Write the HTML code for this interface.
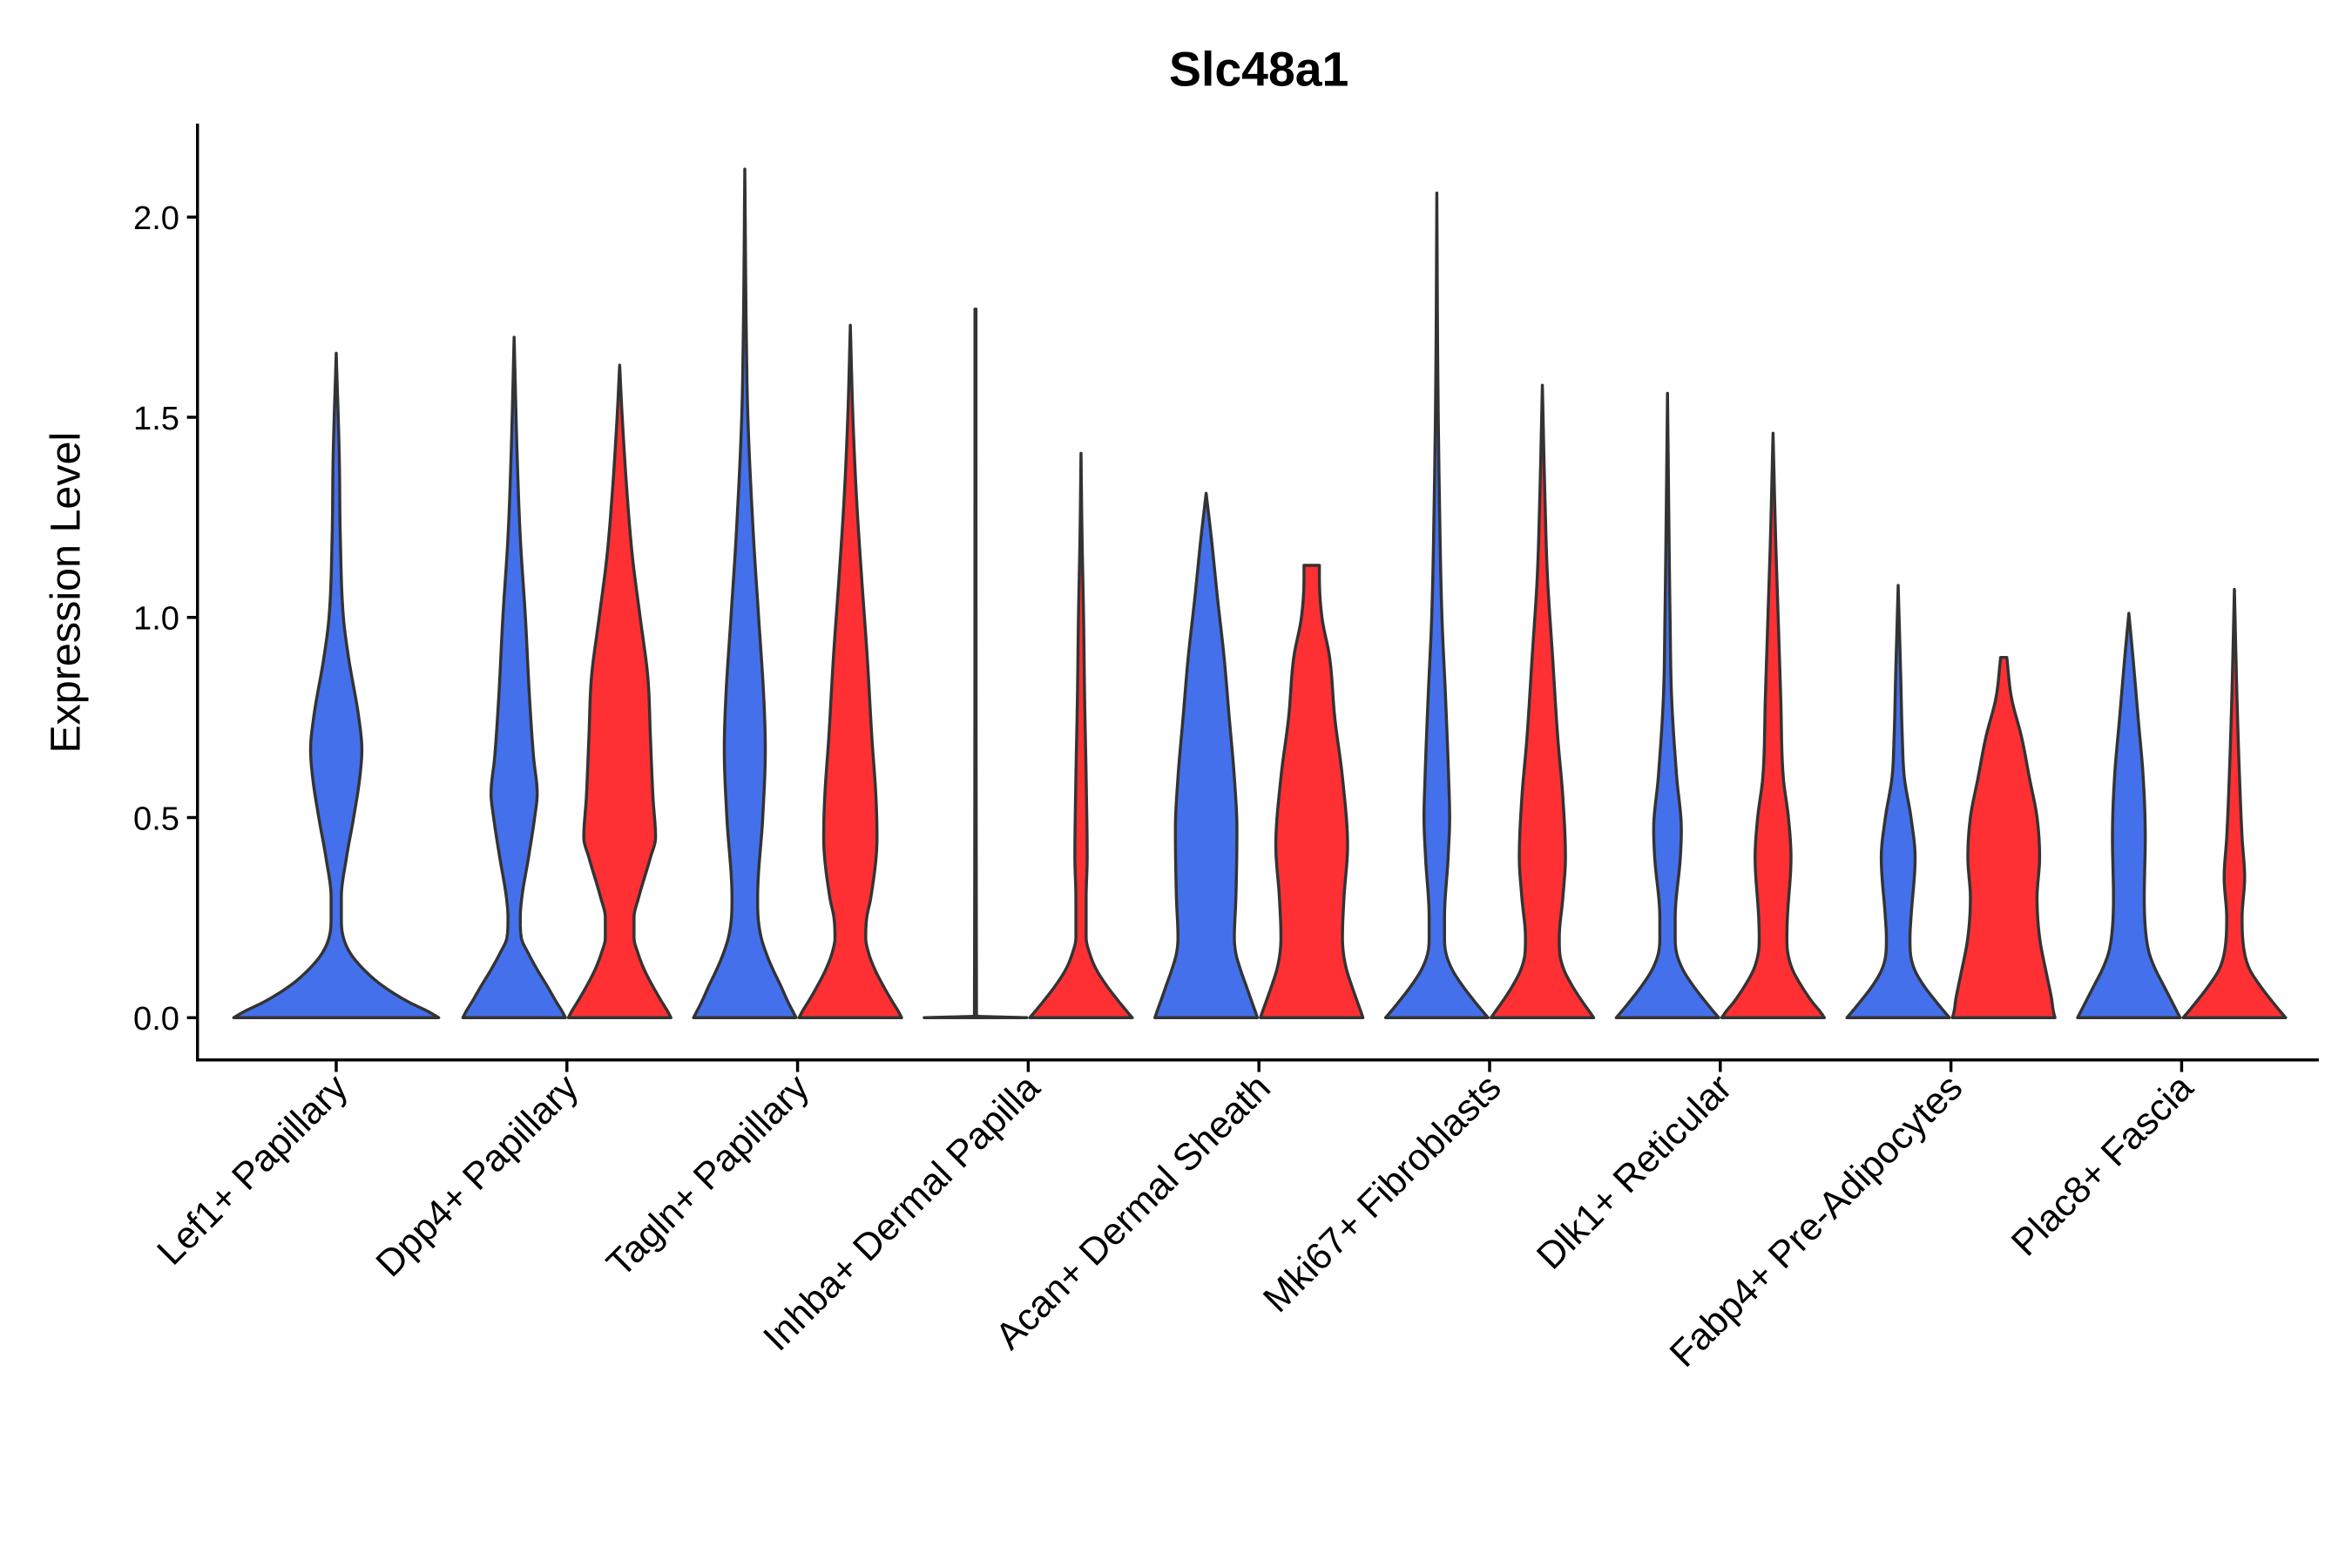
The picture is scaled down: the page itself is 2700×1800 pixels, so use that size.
<!DOCTYPE html>
<html><head><meta charset="utf-8"><style>
html,body{margin:0;padding:0;background:#fff}
svg{display:block}
text{font-family:"Liberation Sans","DejaVu Sans",sans-serif;fill:#000}
</style></head><body>
<svg id="chart" width="2700" height="1800" viewBox="0 0 1560 1040" xmlns="http://www.w3.org/2000/svg">
<rect width="1560" height="1040" fill="#fff"/>
<text x="835" y="57" text-anchor="middle" font-size="32" font-weight="bold">Slc48a1</text>
<text transform="translate(53,393) rotate(-90)" text-anchor="middle" font-size="28">Expression Level</text>
<g id="plot"></g>
</svg>
<script>
const categories = ["Lef1+ Papillary","Dpp4+ Papillary","Tagln+ Papillary","Inhba+ Dermal Papilla","Acan+ Dermal Sheath","Mki67+ Fibroblasts","Dlk1+ Reticular","Fabp4+ Pre-Adipocytes","Plac8+ Fascia"];
const yTicks = [0, 0.5, 1.0, 1.5, 2.0];
const yTickLabels = ["0.0","0.5","1.0","1.5","2.0"];
const violinCategory = [0,1,1,2,2,3,3,4,4,5,5,6,6,7,7,8,8];
const violinGroup =    [0,1,2,1,2,1,2,1,2,1,2,1,2,1,2,1,2];
const violinProfiles = [
 [[0,1],[0.015,0.9],[0.04,0.7],[0.08,0.45],[0.12,0.27],[0.16,0.14],[0.2,0.07],[0.25,0.05],[0.3,0.05],[0.4,0.1],[0.5,0.17],[0.6,0.23],[0.67,0.25],[0.75,0.22],[0.9,0.12],[1.0,0.07],[1.2,0.04],[1.4,0.03],[1.66,0]],
 [[0,1],[0.015,0.94],[0.04,0.82],[0.08,0.64],[0.12,0.45],[0.16,0.28],[0.2,0.14],[0.25,0.12],[0.3,0.15],[0.4,0.28],[0.5,0.4],[0.56,0.45],[0.65,0.38],[0.8,0.3],[1.0,0.22],[1.2,0.12],[1.4,0.06],[1.7,0]],
 [[0,1],[0.015,0.94],[0.04,0.82],[0.08,0.64],[0.12,0.48],[0.16,0.36],[0.2,0.28],[0.25,0.28],[0.3,0.37],[0.4,0.6],[0.45,0.7],[0.55,0.65],[0.7,0.6],[0.85,0.55],[1.0,0.4],[1.15,0.25],[1.3,0.15],[1.5,0.05],[1.63,0]],
 [[0,1],[0.015,0.94],[0.04,0.84],[0.08,0.7],[0.12,0.55],[0.16,0.42],[0.2,0.32],[0.25,0.26],[0.3,0.25],[0.5,0.35],[0.67,0.4],[0.8,0.37],[1.0,0.27],[1.2,0.17],[1.5,0.06],[1.7,0.03],[2.12,0]],
 [[0,1],[0.015,0.94],[0.04,0.82],[0.08,0.64],[0.12,0.48],[0.16,0.36],[0.2,0.3],[0.25,0.32],[0.3,0.4],[0.45,0.52],[0.55,0.5],[0.7,0.42],[0.9,0.33],[1.1,0.22],[1.3,0.12],[1.5,0.05],[1.73,0]],
 [[0,1],[0.004,0.02],[1.77,0.01]],
 [[0,1],[0.015,0.9],[0.04,0.74],[0.08,0.5],[0.12,0.3],[0.16,0.17],[0.2,0.1],[0.3,0.1],[0.4,0.12],[0.6,0.1],[0.8,0.07],[1.0,0.05],[1.2,0.02],[1.41,0]],
 [[0,1],[0.015,0.96],[0.04,0.89],[0.08,0.78],[0.12,0.67],[0.16,0.58],[0.2,0.55],[0.3,0.58],[0.47,0.6],[0.6,0.55],[0.75,0.45],[0.9,0.35],[1.05,0.22],[1.2,0.1],[1.31,0]],
 [[0,1],[0.015,0.96],[0.04,0.89],[0.08,0.78],[0.12,0.68],[0.16,0.62],[0.2,0.6],[0.3,0.63],[0.43,0.7],[0.6,0.6],[0.75,0.45],[0.9,0.35],[1.0,0.2],[1.1,0.15],[1.13,0.15]],
 [[0,1],[0.015,0.9],[0.04,0.74],[0.08,0.5],[0.12,0.3],[0.16,0.18],[0.2,0.15],[0.25,0.15],[0.4,0.22],[0.5,0.25],[0.6,0.23],[0.8,0.17],[1.0,0.1],[1.3,0.05],[1.6,0.02],[2.06,0]],
 [[0,1],[0.015,0.92],[0.04,0.78],[0.08,0.58],[0.12,0.42],[0.16,0.34],[0.2,0.33],[0.3,0.4],[0.4,0.45],[0.55,0.4],[0.7,0.3],[0.9,0.2],[1.1,0.1],[1.3,0.05],[1.58,0]],
 [[0,1],[0.015,0.9],[0.04,0.74],[0.08,0.5],[0.12,0.3],[0.16,0.18],[0.2,0.15],[0.25,0.15],[0.4,0.25],[0.47,0.27],[0.6,0.18],[0.8,0.08],[1.0,0.05],[1.2,0.03],[1.56,0]],
 [[0,1],[0.015,0.92],[0.04,0.76],[0.08,0.55],[0.12,0.38],[0.16,0.29],[0.2,0.27],[0.25,0.28],[0.4,0.35],[0.5,0.3],[0.6,0.2],[0.8,0.15],[1.0,0.1],[1.2,0.05],[1.46,0]],
 [[0,1],[0.015,0.9],[0.04,0.74],[0.08,0.5],[0.12,0.32],[0.16,0.24],[0.2,0.23],[0.25,0.25],[0.4,0.33],[0.5,0.25],[0.6,0.12],[0.7,0.08],[0.85,0.05],[1.08,0]],
 [[0,1],[0.015,0.97],[0.05,0.93],[0.1,0.85],[0.2,0.7],[0.3,0.65],[0.4,0.7],[0.5,0.65],[0.6,0.5],[0.7,0.35],[0.8,0.15],[0.9,0.06]],
 [[0,1],[0.015,0.94],[0.04,0.84],[0.08,0.68],[0.12,0.52],[0.16,0.4],[0.2,0.34],[0.3,0.3],[0.45,0.32],[0.6,0.28],[0.75,0.18],[0.9,0.08],[1.01,0]],
 [[0,1],[0.015,0.9],[0.04,0.74],[0.08,0.5],[0.12,0.3],[0.16,0.2],[0.25,0.15],[0.35,0.2],[0.45,0.15],[0.6,0.1],[0.8,0.05],[1.07,0]]
];
const groupColors = ["#4570EB","#4570EB","#FF3034"];

const NS="http://www.w3.org/2000/svg";
const plot=document.getElementById('plot');
const X0=131, X1=1538, YTOP=82, YBASE=703;
const yScale=v=>675 - v*265.5;
const xScale=i=>223 + i*153;
function mk(tag,attrs,parent){const e=document.createElementNS(NS,tag);for(const k in attrs)e.setAttribute(k,attrs[k]);(parent||plot).appendChild(e);return e;}

// monotone cubic (Fritsch-Carlson) interpolation of width over value
function monotone(prof){
  const n=prof.length, xs=prof.map(p=>p[0]), ys=prof.map(p=>p[1]);
  const d=[],m=new Array(n);
  for(let i=0;i<n-1;i++)d.push((ys[i+1]-ys[i])/(xs[i+1]-xs[i]));
  m[0]=d[0]; m[n-1]=d[n-2];
  for(let i=1;i<n-1;i++){m[i]=(d[i-1]*d[i]<=0)?0:(d[i-1]+d[i])/2;}
  for(let i=0;i<n-1;i++){
    if(d[i]===0){m[i]=0;m[i+1]=0;continue;}
    const a=m[i]/d[i],b=m[i+1]/d[i],s=a*a+b*b;
    if(s>9){const t=3/Math.sqrt(s);m[i]=t*a*d[i];m[i+1]=t*b*d[i];}
  }
  const pts=[];
  for(let i=0;i<n-1;i++){
    const h=xs[i+1]-xs[i];
    for(let s=0;s<10;s++){
      const t=s/10,t2=t*t,t3=t2*t;
      const w=(2*t3-3*t2+1)*ys[i]+(t3-2*t2+t)*h*m[i]+(-2*t3+3*t2)*ys[i+1]+(t3-t2)*h*m[i+1];
      pts.push([xs[i]+h*t,Math.max(0,w)]);
    }
  }
  pts.push([xs[n-1],ys[n-1]]);
  return pts;
}

violinProfiles.forEach((prof,vi)=>{
  const g=violinGroup[vi];
  const cx=xScale(violinCategory[vi]) + (g===1?-35:g===2?35:0);
  const hw = g===0?68:34;
  const pts=monotone(prof);
  let d='';
  pts.forEach((q,i)=>{d+=(i?'L':'M')+(cx-q[1]*hw).toFixed(2)+','+yScale(q[0]).toFixed(2);});
  for(let i=pts.length-1;i>=0;i--){const q=pts[i];d+='L'+(cx+q[1]*hw).toFixed(2)+','+yScale(q[0]).toFixed(2);}
  d+='Z';
  const path=mk('path',{d:d,fill:groupColors[g],stroke:'#333','stroke-width':2,'stroke-linejoin':'round'});
  
  
});

const ax=mk('line',{x1:X0,y1:YTOP,x2:X0,y2:YBASE+1,stroke:'#000','stroke-width':2});


const bx=mk('line',{x1:X0-1,y1:YBASE,x2:X1,y2:YBASE,stroke:'#000','stroke-width':2});


yTicks.forEach((v,i)=>{
  const y=yScale(v);
  const t=mk('line',{x1:X0-7,y1:y,x2:X0,y2:y,stroke:'#000','stroke-width':2});
  
  
  const l=mk('text',{x:X0-12,y:y+8,'text-anchor':'end','font-size':22,fill:'#222'});
  l.textContent=yTickLabels[i];
  
  
});
categories.forEach((c,i)=>{
  const x=xScale(i);
  const t=mk('line',{x1:x,y1:YBASE,x2:x,y2:YBASE+8,stroke:'#000','stroke-width':2});
  
  
  const l=mk('text',{transform:'translate('+(x+9)+',723) rotate(-45)','text-anchor':'end','font-size':25,fill:'#222'});
  l.textContent=c;
  
  
});
</script>
</body></html>
